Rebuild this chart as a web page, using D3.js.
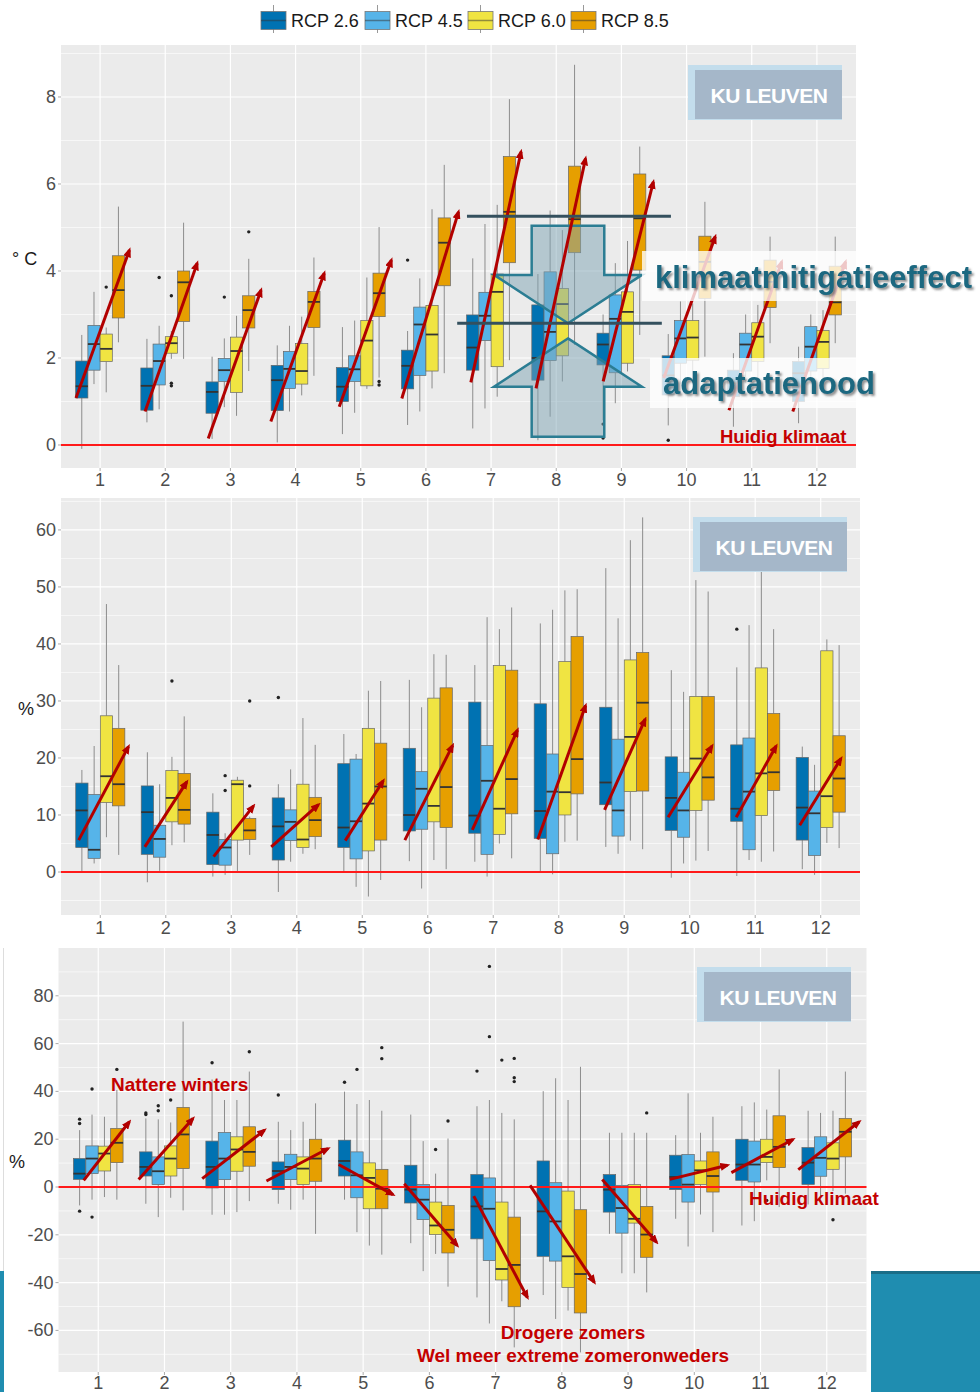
<!DOCTYPE html>
<html>
<head>
<meta charset="utf-8">
<script src="https://cdnjs.cloudflare.com/ajax/libs/d3/7.8.5/d3.min.js"></script>
<style>
  body { margin: 0; background: #fff; }
  svg text { font-family: "Liberation Sans", Arial, sans-serif; }
</style>
</head>
<body>
<svg id="chart" width="980" height="1392"></svg>
<script>
const months = [1, 2, 3, 4, 5, 6, 7, 8, 9, 10, 11, 12];
const scenarios = ["RCP 2.6", "RCP 4.5", "RCP 6.0", "RCP 8.5"];
const scenarioColors = ["#0072B2", "#56B4E9", "#F0E442", "#E69F00"];

// [whisker low, q1, median, q3, whisker high] per month, per scenario
const tempBoxes = [
  [[-0.09, 1.08, 1.35, 1.93, 2.53], [1.40, 1.72, 2.32, 2.75, 3.52], [1.21, 1.92, 2.21, 2.55, 2.70], [2.36, 2.92, 3.56, 4.35, 5.48]],
  [[0.52, 0.80, 1.36, 1.77, 2.44], [0.82, 1.38, 1.93, 2.32, 2.74], [1.98, 2.11, 2.34, 2.49, 2.62], [1.98, 2.84, 3.74, 4.00, 5.11]],
  [[0.14, 0.73, 1.22, 1.45, 2.03], [0.87, 1.46, 1.72, 1.99, 2.45], [0.67, 1.21, 2.16, 2.48, 2.97], [1.70, 2.69, 3.10, 3.43, 4.28]],
  [[0.06, 0.79, 1.49, 1.83, 2.29], [0.77, 1.30, 1.75, 2.15, 2.74], [1.14, 1.40, 1.70, 2.33, 2.95], [1.59, 2.70, 3.29, 3.53, 4.31]],
  [[0.25, 1.00, 1.34, 1.78, 2.71], [0.74, 1.46, 1.74, 2.05, 2.86], [1.29, 1.36, 2.40, 2.86, 3.85], [1.55, 2.95, 3.49, 3.95, 5.01]],
  [[0.46, 1.29, 1.82, 2.18, 2.62], [0.77, 1.60, 2.77, 3.17, 3.83], [1.30, 1.70, 2.54, 3.21, 5.42], [1.65, 3.66, 4.65, 5.22, 6.44]],
  [[0.38, 1.72, 2.24, 2.99, 4.29], [0.84, 2.40, 2.97, 3.51, 5.08], [1.11, 1.80, 3.52, 3.93, 5.52], [1.95, 4.19, 5.36, 6.63, 7.95]],
  [[0.11, 1.49, 2.00, 3.22, 3.93], [0.65, 1.94, 2.60, 3.98, 5.39], [1.46, 2.05, 3.24, 3.60, 4.94], [2.30, 4.42, 5.19, 6.41, 8.74]],
  [[0.57, 1.84, 2.31, 2.57, 3.00], [0.96, 1.66, 2.90, 3.45, 4.18], [1.69, 1.88, 3.06, 3.52, 4.69], [2.53, 4.02, 5.21, 6.23, 6.86]],
  [[0.45, 1.15, 1.60, 2.05, 2.55], [1.40, 1.88, 2.45, 2.86, 3.30], [1.42, 1.95, 2.47, 2.86, 3.25], [2.03, 3.37, 4.21, 4.80, 5.59]],
  [[0.42, 1.11, 1.42, 1.72, 2.11], [1.42, 1.70, 2.31, 2.57, 3.00], [1.42, 1.92, 2.49, 2.81, 3.22], [2.34, 3.16, 3.75, 4.25, 4.79]],
  [[0.50, 1.00, 1.65, 1.92, 2.26], [1.20, 1.70, 2.26, 2.72, 3.00], [1.35, 1.76, 2.37, 2.63, 3.10], [2.34, 2.99, 3.28, 4.11, 4.79]]
];
// [month, scenario index, value]
const tempOutliers = [
  [1, 2, 3.63], [2, 1, 3.85], [2, 2, 3.43], [2, 2, 1.42], [2, 2, 1.36], [3, 1, 3.40], [3, 3, 4.90],
  [5, 3, 1.46], [5, 3, 1.38], [6, 0, 4.25], [9, 0, 0.48], [9, 0, 0.16], [10, 0, 0.11]
];
// [start month position, start value, end month position, end value]
const tempArrows = [
  [0.63, 1.08, 1.45, 4.48], [1.69, 0.77, 2.49, 4.18], [2.66, 0.15, 3.47, 3.56], [3.62, 0.54, 4.44, 3.95],
  [4.67, 0.88, 5.47, 4.25], [5.63, 1.07, 6.50, 5.36], [6.69, 1.44, 7.46, 6.74], [7.69, 1.30, 8.45, 6.59],
  [8.72, 1.46, 9.49, 6.05], [9.65, 1.54, 10.44, 4.79], [10.65, 0.80, 11.46, 4.21], [11.63, 0.77, 12.44, 4.21]
];
// mitigation / adaptation annotation (month position, °C)
const mitigationLines = [[6.63, 9.76, 5.26], [6.48, 9.62, 2.80]];
const doubleArrow = { center: 8.18, shaft: 0.557, head: 1.135, top: 5.04, topBase: 3.91, topTip: 2.80, botTip: 2.45, botBase: 1.34, bottom: 0.19 };

const extremeBoxes = [
  [[-0.1, 4.3, 10.8, 15.6, 17.9], [1.5, 2.4, 3.9, 13.6, 22.1], [6.1, 12.2, 16.8, 27.4, 47.0], [3.0, 11.6, 15.4, 25.2, 36.3]],
  [[-1.8, 3.1, 10.5, 15.1, 21.0], [0.2, 2.6, 5.8, 8.2, 15.4], [4.7, 8.8, 13.0, 17.8, 20.2], [5.2, 8.4, 10.9, 17.3, 27.3]],
  [[-0.8, 1.3, 6.5, 10.5, 13.8], [-0.5, 1.2, 4.3, 5.7, 6.8], [-0.1, 5.6, 15.4, 16.1, 16.7], [3.0, 5.7, 7.3, 9.4, 9.7]],
  [[-3.5, 2.1, 8.0, 13.0, 15.4], [1.8, 5.5, 8.8, 10.9, 18.0], [3.2, 4.3, 5.7, 15.4, 27.0], [4.0, 6.2, 9.1, 13.1, 22.3]],
  [[-0.1, 4.3, 7.8, 19.0, 24.2], [-2.6, 2.3, 8.9, 19.8, 20.7], [-4.3, 3.7, 12.0, 25.2, 31.8], [-1.4, 5.6, 15.0, 22.6, 33.5]],
  [[1.9, 7.2, 10.0, 21.7, 33.7], [-2.9, 7.5, 14.6, 17.6, 28.9], [2.1, 8.8, 11.6, 30.5, 38.2], [0.5, 7.8, 14.9, 32.3, 38.1]],
  [[1.8, 6.8, 9.9, 29.8, 36.3], [-0.8, 3.1, 16.0, 22.2, 44.7], [5.0, 6.6, 11.1, 36.2, 42.6], [2.4, 10.2, 16.3, 35.4, 46.4]],
  [[0.1, 5.9, 10.7, 29.5, 43.6], [-0.4, 3.2, 14.1, 20.7, 46.0], [5.3, 10.0, 14.0, 36.9, 49.4], [5.5, 13.7, 19.8, 41.3, 49.6]],
  [[4.4, 11.8, 15.7, 28.9, 53.3], [3.2, 6.3, 10.8, 23.3, 44.5], [5.5, 14.1, 23.7, 37.2, 58.2], [4.0, 14.2, 29.7, 38.5, 62.2]],
  [[-1.0, 7.3, 13.0, 20.2, 35.4], [1.5, 6.1, 10.8, 17.5, 31.6], [2.0, 10.8, 19.9, 30.8, 51.2], [3.7, 12.6, 16.6, 30.8, 49.2]],
  [[-0.7, 8.9, 11.1, 22.3, 35.9], [2.1, 3.9, 14.1, 23.5, 43.3], [1.8, 9.9, 17.3, 35.8, 61.6], [3.6, 14.3, 17.5, 27.8, 42.6]],
  [[0.5, 5.6, 11.3, 20.1, 22.0], [-0.5, 2.9, 10.3, 14.2, 18.8], [5.1, 7.8, 13.3, 38.8, 40.8], [4.2, 10.5, 16.4, 23.9, 39.8]]
];
const extremeOutliers = [
  [2, 2, 33.5], [3, 1, 16.9], [3, 1, 14.3], [3, 3, 30.0], [3, 3, 15.1], [4, 0, 30.6], [11, 0, 42.6], [11, 3, 53.2]
];
const extremeArrows = [
  [0.67, 5.6, 1.43, 22.0], [1.68, 4.4, 2.32, 15.8], [2.73, 2.7, 3.34, 11.6], [3.61, 4.4, 4.33, 11.8],
  [4.74, 5.5, 5.32, 16.0], [5.65, 5.6, 6.38, 22.2], [6.68, 7.4, 7.37, 24.9], [7.68, 5.7, 8.41, 29.2],
  [8.70, 10.9, 9.32, 26.8], [9.67, 9.6, 10.34, 22.1], [10.71, 9.6, 11.32, 22.1], [11.68, 8.2, 12.31, 19.9]
];

const rainBoxes = [
  [[-7.7, 3.2, 5.6, 11.9, 23.8], [-5.3, 5.6, 11.9, 17.2, 30.3], [-4.2, 6.7, 14.0, 17.1, 29.4], [-5.3, 10.2, 18.5, 24.5, 40.6]],
  [[-7.0, 4.6, 8.4, 14.7, 28.7], [-12.6, 1.0, 6.6, 12.6, 28.3], [-4.5, 4.6, 11.9, 17.2, 27.0], [-9.8, 7.7, 22.0, 33.3, 69.2]],
  [[-11.6, -0.4, 8.4, 19.2, 45.0], [-11.6, 3.1, 11.9, 22.8, 36.4], [-10.5, 6.6, 15.7, 21.0, 36.4], [-5.9, 8.7, 14.7, 25.2, 48.3]],
  [[-7.0, -1.1, 6.7, 10.5, 27.3], [-9.5, 3.1, 8.4, 13.7, 23.8], [-5.3, 1.0, 7.7, 12.6, 27.3], [-19.6, 2.4, 11.9, 20.0, 35.0]],
  [[-5.3, 4.6, 10.9, 19.6, 39.9], [-18.9, -4.5, 4.9, 14.7, 34.7], [-24.5, -9.1, 3.8, 10.1, 36.4], [-28.3, -9.1, -0.7, 7.4, 31.9]],
  [[-23.5, -6.7, -1.1, 9.1, 30.3], [-35.2, -13.6, -5.3, 1.0, 19.2], [-28.0, -19.9, -16.1, -6.3, 5.6], [-41.7, -27.6, -17.9, -7.7, 20.3]],
  [[-46.2, -21.7, -8.1, 5.2, 33.8], [-57.1, -30.8, -9.1, 3.8, 36.4], [-47.8, -38.9, -34.3, -6.3, 31.0], [-67.1, -50.1, -32.6, -12.6, 28.3]],
  [[-45.2, -29.0, -10.2, 10.9, 40.1], [-55.2, -31.0, -14.4, 1.8, 45.5], [-51.7, -42.0, -29.0, -1.7, 36.4], [-69.2, -52.7, -36.4, -9.5, 50.3]],
  [[-19.6, -10.5, -1.1, 5.2, 22.7], [-36.1, -19.3, -8.8, 0.7, 22.7], [-36.1, -15.1, -13.3, 1.0, 22.7], [-44.1, -29.4, -19.9, -8.1, 22.7]],
  [[-13.3, -1.1, 4.2, 13.3, 21.7], [-24.9, -6.3, 1.0, 13.6, 39.2], [-11.5, 1.1, 7.0, 10.9, 22.7], [-18.9, -2.1, 4.6, 14.7, 29.4]],
  [[-16.1, 2.8, 9.4, 20.0, 33.8], [-14.3, 2.1, 9.4, 19.2, 35.4], [2.8, 10.2, 12.6, 20.0, 32.4], [-8.4, 8.1, 16.8, 29.8, 49.2]],
  [[-7.3, 1.1, 10.2, 16.5, 31.9], [-5.3, 4.5, 12.2, 21.0, 31.0], [-1.7, 7.4, 11.9, 18.5, 31.9], [-2.8, 12.6, 23.1, 28.7, 48.3]]
];
const rainOutliers = [
  [1, 0, 28.4], [1, 0, 26.6], [1, 0, -10.1], [1, 1, 41.0], [1, 1, -12.6], [1, 3, 49.2],
  [2, 0, 31.0], [2, 0, 30.3], [2, 1, 34.0], [2, 1, 31.9], [2, 2, 36.4], [3, 0, 52.0], [3, 3, 56.6],
  [4, 0, 38.5], [5, 0, 43.8], [5, 1, 49.2], [5, 3, 58.3], [5, 3, 53.7], [6, 2, 15.7], [6, 3, 27.6],
  [7, 0, 48.5], [7, 1, 92.3], [7, 1, 62.9], [7, 2, 53.1], [7, 3, 53.8], [7, 3, 45.7], [7, 3, 44.1],
  [9, 3, 31.0], [11, 2, -5.6], [12, 2, -13.7]
];
const rainArrows = [
  [0.78, 2.8, 1.47, 27.3], [1.61, 3.1, 2.43, 28.7], [2.57, 3.5, 3.51, 23.8], [3.54, 2.5, 4.47, 16.1],
  [4.63, 9.4, 5.45, -3.2], [5.62, 1.4, 6.42, -24.5], [6.67, -3.8, 7.48, -46.2], [7.52, 0.7, 8.49, -39.9],
  [8.61, 3.1, 9.43, -23.1], [9.63, 3.2, 10.50, 9.1], [10.56, 6.0, 11.49, 19.9], [11.57, 7.3, 12.49, 27.3]
];

const svg = d3.select("#chart");
const arrowRed = "#B20000";
const textRed = "#C40000";

const defs = svg.append("defs");
defs.append("marker")
    .attr("id", "head")
    .attr("viewBox", "0 0 10 8")
    .attr("refX", 7)
    .attr("refY", 4)
    .attr("markerWidth", 10)
    .attr("markerHeight", 8)
    .attr("markerUnits", "userSpaceOnUse")
    .attr("orient", "auto")
  .append("path")
    .attr("d", "M0,0 L10,4 L0,8 Z")
    .attr("fill", arrowRed);
defs.append("filter")
    .attr("id", "shadow")
    .attr("x", "-5%").attr("y", "-20%").attr("width", "110%").attr("height", "150%")
  .append("feDropShadow")
    .attr("dx", 2).attr("dy", 2).attr("stdDeviation", 1.2)
    .attr("flood-color", "#444").attr("flood-opacity", 0.6);

// legend
const legend = svg.append("g");
const legendX = [261, 365, 468, 571];
scenarios.forEach((s, i) => {
  const lx = legendX[i];
  legend.append("line").attr("x1", lx + 12.5).attr("x2", lx + 12.5).attr("y1", 5).attr("y2", 33)
    .attr("stroke", "#999").attr("stroke-width", 1);
  legend.append("rect").attr("x", lx).attr("y", 11.5).attr("width", 25).attr("height", 18)
    .attr("fill", scenarioColors[i]).attr("stroke", "#777").attr("stroke-width", 0.8);
  legend.append("line").attr("x1", lx).attr("x2", lx + 25).attr("y1", 20.5).attr("y2", 20.5)
    .attr("stroke", "#333").attr("stroke-opacity", 0.5).attr("stroke-width", 1.5);
  legend.append("text").attr("x", lx + 30).attr("y", 27).style("font-size", "18px").attr("fill", "#1a1a1a").text(s);
});

function drawPanel(p) {
  const x = d3.scaleLinear().domain([0.4, 12.6]).range([p.left, p.right]);
  const y = d3.scaleLinear().domain(p.yDomain).range([p.bottom, p.top]);
  const g = svg.append("g");
  const boxW = (x(1) - x(0)) * 0.75 / 4;

  g.append("rect").attr("x", p.left).attr("y", p.top)
    .attr("width", p.right - p.left).attr("height", p.bottom - p.top).attr("fill", "#EBEBEB");

  g.selectAll(".minor").data(p.minorTicks).join("line")
    .attr("x1", p.left).attr("x2", p.right).attr("y1", d => y(d)).attr("y2", d => y(d))
    .attr("stroke", "#fff").attr("stroke-width", 0.6);
  g.selectAll(".major").data(p.yTicks).join("line")
    .attr("x1", p.left).attr("x2", p.right).attr("y1", d => y(d)).attr("y2", d => y(d))
    .attr("stroke", "#fff").attr("stroke-width", 1.2);
  g.selectAll(".vmajor").data(months).join("line")
    .attr("x1", d => x(d)).attr("x2", d => x(d)).attr("y1", p.top).attr("y2", p.bottom)
    .attr("stroke", "#fff").attr("stroke-width", 1.2);

  // axes labels
  g.selectAll(".ytick").data(p.yTicks).join("text")
    .attr("x", p.left - 5).attr("y", d => y(d) + 6).attr("text-anchor", "end")
    .style("font-size", "18px").attr("fill", "#4d4d4d").text(d => d);
  g.selectAll(".ytm").data(p.yTicks).join("line")
    .attr("x1", p.left - 3).attr("x2", p.left).attr("y1", d => y(d)).attr("y2", d => y(d))
    .attr("stroke", "#aaa");
  g.selectAll(".xtick").data(months).join("text")
    .attr("x", d => x(d)).attr("y", p.bottom + p.xLabelGap).attr("text-anchor", "middle")
    .style("font-size", "18px").attr("fill", "#4d4d4d").text(d => d);
  g.selectAll(".xtm").data(months).join("line")
    .attr("x1", d => x(d)).attr("x2", d => x(d)).attr("y1", p.bottom).attr("y2", p.bottom + 3)
    .attr("stroke", "#aaa");
  g.append("text").attr("x", p.titleX).attr("y", p.titleY)
    .style("font-size", "18px").attr("fill", "#1a1a1a").text(p.title);

  // boxes
  const flat = [];
  p.boxes.forEach((mb, mi) => mb.forEach((b, si) => flat.push({ m: months[mi], s: si, b })));
  const cx = d => x(d.m + (d.s - 1.5) * 0.1875);
  const boxes = g.selectAll(".box").data(flat).join("g");
  boxes.append("line")
    .attr("x1", cx).attr("x2", cx).attr("y1", d => y(d.b[4])).attr("y2", d => y(d.b[3]))
    .attr("stroke", "#8c8c8c").attr("stroke-width", 1);
  boxes.append("line")
    .attr("x1", cx).attr("x2", cx).attr("y1", d => y(d.b[1])).attr("y2", d => y(d.b[0]))
    .attr("stroke", "#8c8c8c").attr("stroke-width", 1);
  boxes.append("rect")
    .attr("x", d => cx(d) - boxW / 2).attr("width", boxW)
    .attr("y", d => y(d.b[3])).attr("height", d => y(d.b[1]) - y(d.b[3]))
    .attr("fill", d => scenarioColors[d.s]).attr("stroke", "#666").attr("stroke-width", 0.7);
  boxes.append("line")
    .attr("x1", d => cx(d) - boxW / 2).attr("x2", d => cx(d) + boxW / 2)
    .attr("y1", d => y(d.b[2])).attr("y2", d => y(d.b[2]))
    .attr("stroke", "#333").attr("stroke-width", 1.8);

  g.selectAll(".outlier").data(p.outliers).join("circle")
    .attr("cx", d => x(d[0] + (d[1] - 1.5) * 0.1875)).attr("cy", d => y(d[2]))
    .attr("r", 1.7).attr("fill", "#222");

  // current climate line
  g.append("line").attr("x1", p.left).attr("x2", p.right).attr("y1", y(0)).attr("y2", y(0))
    .attr("stroke", "#FF1A1A").attr("stroke-width", 2);

  return { x, y, g };
}

function drawArrows(panel, arrows) {
  panel.g.selectAll(".arrow").data(arrows).join("line")
    .attr("x1", d => panel.x(d[0])).attr("y1", d => panel.y(d[1]))
    .attr("x2", d => panel.x(d[2])).attr("y2", d => panel.y(d[3]))
    .attr("stroke", arrowRed).attr("stroke-width", 3)
    .attr("marker-end", "url(#head)");
}

function drawLogo(lx, ly) {
  const g = svg.append("g");
  g.append("rect").attr("x", lx).attr("y", ly).attr("width", 154).attr("height", 55).attr("fill", "#C3DDEC");
  g.append("rect").attr("x", lx + 7).attr("y", ly + 5).attr("width", 147).attr("height", 49).attr("fill", "#A5B7C9");
  g.append("text").attr("x", lx + 81).attr("y", ly + 38).attr("text-anchor", "middle")
    .style("font-size", "21px").style("font-weight", "bold").style("letter-spacing", "-0.5px")
    .attr("fill", "#fff").text("KU LEUVEN");
}

// Panel 1: temperature
const p1 = drawPanel({
  left: 61, right: 856, top: 45, bottom: 468, xLabelGap: 18,
  yDomain: [-0.529, 9.195], yTicks: [0, 2, 4, 6, 8], minorTicks: [1, 3, 5, 7, 9],
  boxes: tempBoxes, outliers: tempOutliers, title: "° C", titleX: 12, titleY: 265
});
const da = doubleArrow;
const upper = [[da.center - da.shaft, da.top], [da.center + da.shaft, da.top], [da.center + da.shaft, da.topBase],
  [da.center + da.head, da.topBase], [da.center, da.topTip], [da.center - da.head, da.topBase], [da.center - da.shaft, da.topBase]];
const lower = [[da.center, da.botTip], [da.center + da.head, da.botBase], [da.center + da.shaft, da.botBase],
  [da.center + da.shaft, da.bottom], [da.center - da.shaft, da.bottom], [da.center - da.shaft, da.botBase], [da.center - da.head, da.botBase]];
[upper, lower].forEach(poly => {
  p1.g.append("polygon")
    .attr("points", poly.map(pt => [p1.x(pt[0]), p1.y(pt[1])].join(",")).join(" "))
    .attr("fill", "#7EA3B3").attr("fill-opacity", 0.5)
    .attr("stroke", "#2B7D93").attr("stroke-width", 2.5);
});
drawArrows(p1, tempArrows);
p1.g.selectAll(".mitline").data(mitigationLines).join("line")
  .attr("x1", d => p1.x(d[0])).attr("x2", d => p1.x(d[1]))
  .attr("y1", d => p1.y(d[2])).attr("y2", d => p1.y(d[2]))
  .attr("stroke", "#34505E").attr("stroke-width", 3);

svg.append("rect").attr("x", 642).attr("y", 251).attr("width", 338).attr("height", 50)
  .attr("fill", "#fff").attr("fill-opacity", 0.78);
svg.append("rect").attr("x", 650).attr("y", 358).attr("width", 330).attr("height", 50)
  .attr("fill", "#fff").attr("fill-opacity", 0.78);
svg.append("text").attr("x", 655).attr("y", 288).style("font-size", "31px").style("font-weight", "bold")
  .attr("fill", "#1B6880").attr("filter", "url(#shadow)").text("klimaatmitigatieeffect");
svg.append("text").attr("x", 663).attr("y", 394).style("font-size", "31px").style("font-weight", "bold")
  .attr("fill", "#1B6880").attr("filter", "url(#shadow)").text("adaptatienood");
svg.append("text").attr("x", 720).attr("y", 443).style("font-size", "18.5px").style("font-weight", "bold")
  .attr("fill", textRed).text("Huidig klimaat");
drawLogo(688, 65);

// Panel 2: extreme precipitation
const p2 = drawPanel({
  left: 61, right: 860, top: 498, bottom: 915, xLabelGap: 19,
  yDomain: [-7.54, 65.6], yTicks: [0, 10, 20, 30, 40, 50, 60], minorTicks: [-5, 5, 15, 25, 35, 45, 55, 65],
  boxes: extremeBoxes, outliers: extremeOutliers, title: "%", titleX: 18, titleY: 715
});
drawArrows(p2, extremeArrows);
drawLogo(693, 517);

// Panel 3: mean precipitation
const p3 = drawPanel({
  left: 58.5, right: 866.5, top: 948, bottom: 1372, xLabelGap: 17,
  yDomain: [-77.4, 100], yTicks: [-60, -40, -20, 0, 20, 40, 60, 80], minorTicks: [-70, -50, -30, -10, 10, 30, 50, 70, 90],
  boxes: rainBoxes, outliers: rainOutliers, title: "%", titleX: 9, titleY: 1168
});
drawArrows(p3, rainArrows);
drawLogo(697, 967);
svg.append("text").attr("x", 111).attr("y", 1091).style("font-size", "19px").style("font-weight", "bold")
  .attr("fill", textRed).text("Nattere winters");
svg.append("text").attr("x", 573).attr("y", 1339).attr("text-anchor", "middle").style("font-size", "19px").style("font-weight", "bold")
  .attr("fill", textRed).text("Drogere zomers");
svg.append("text").attr("x", 573).attr("y", 1362).attr("text-anchor", "middle").style("font-size", "19px").style("font-weight", "bold")
  .attr("fill", textRed).text("Wel meer extreme zomeronweders");
svg.append("text").attr("x", 749).attr("y", 1205).style("font-size", "19px").style("font-weight", "bold")
  .attr("fill", textRed).text("Huidig klimaat");

// slide decoration at the bottom
svg.append("line").attr("x1", 3.5).attr("x2", 3.5).attr("y1", 948).attr("y2", 1271).attr("stroke", "#ddd");
svg.append("rect").attr("x", 0).attr("y", 1271).attr("width", 4).attr("height", 121).attr("fill", "#1F8DB0");
svg.append("rect").attr("x", 871).attr("y", 1271).attr("width", 109).attr("height", 121).attr("fill", "#1F8DB0");
svg.append("rect").attr("x", 871).attr("y", 1271).attr("width", 109).attr("height", 3).attr("fill", "#1A6D87");
</script>
</body>
</html>
